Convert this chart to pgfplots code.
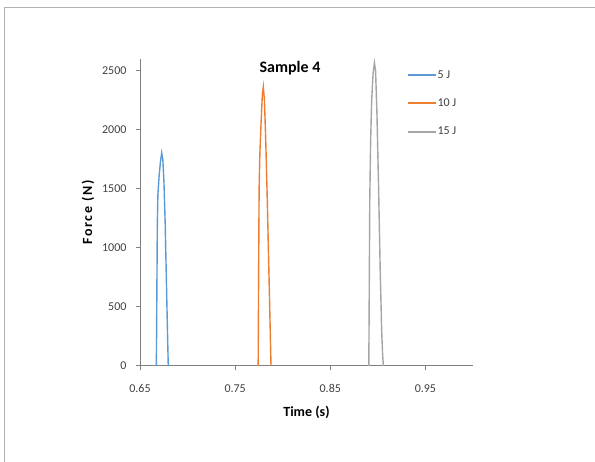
\documentclass[border=0pt]{standalone}
\usepackage{fontspec}
\setmainfont{Carlito}
\newfontfamily\spaced[LetterSpace=12]{Carlito}
\usepackage{pgfplots}
\pgfplotsset{compat=1.18}
\definecolor{cblue}{HTML}{5B9BD5}
\definecolor{corange}{HTML}{ED7D31}
\definecolor{cgray}{HTML}{A5A5A5}
\definecolor{axgray}{HTML}{7F7F7F}
\definecolor{txt}{HTML}{404040}
\begin{document}
\begin{tikzpicture}[x=1pt,y=1pt]
\path[use as bounding box] (0,0) rectangle (595,462);
\draw[color=black!30, line width=1pt] (4,0) -- (4,454) -- (595,454);
\begin{axis}[
  at={(140pt,96pt)}, anchor=south west,
  scale only axis, width=333pt, height=307pt,
  xmin=0.65, xmax=1.0, ymin=0, ymax=2600,
  xtick={0.65,0.75,0.85,0.95},
  ytick={0,500,1000,1500,2000,2500},
  xticklabel style={/pgf/number format/fixed,/pgf/number format/precision=2,/pgf/number format/fixed zerofill, yshift=-11pt},
  yticklabel style={/pgf/number format/fixed,/pgf/number format/1000 sep={}, xshift=-6pt},
  /pgf/number format/assume math mode=true,
  ticklabel style={font=\fontsize{12}{14}\selectfont, text=txt},
  axis x line*=bottom, axis y line*=left,
  axis line style={axgray, line width=1pt, -},
  tick style={axgray, line width=1pt},
  tick align=outside, major tick length=4pt,
  xlabel={\textbf{Time (s)}},
  ylabel={\spaced\bfseries Force (N)},
  label style={font=\fontsize{14}{16}\selectfont, text=black},
  xlabel style={yshift=-6pt},
  ylabel style={yshift=1pt},
  legend style={at={(0.80,0.97)}, anchor=north west, draw=none, fill=none,
    font=\fontsize{12}{14}\selectfont, text=txt, row sep=15pt, inner sep=0pt,
    nodes={inner xsep=1pt}},
  legend cell align=left,
  legend image code/.code={\draw[#1, line width=2pt] (0pt,0pt) -- (28pt,0pt);},
  clip=false,
]
\addplot[cblue, line width=1.4pt] coordinates {
(0.6672,0) (0.6677,600) (0.6682,1200) (0.6688,1450) (0.6700,1600) (0.6715,1730)
(0.6728,1805) (0.6740,1750) (0.6752,1550) (0.6765,1200) (0.6778,700) (0.6790,250) (0.6797,0)};
\addlegendentry{5 J}
\addplot[corange, line width=1.4pt] coordinates {
(0.7742,0) (0.7747,800) (0.7752,1500) (0.7760,1800) (0.7772,2050) (0.7786,2300)
(0.7796,2365) (0.7808,2250) (0.7822,1900) (0.7838,1400) (0.7852,900) (0.7866,400) (0.7877,0)};
\addlegendentry{10 J}
\addplot[cgray, line width=1.4pt] coordinates {
(0.8905,0) (0.8910,700) (0.8915,1400) (0.8924,1900) (0.8935,2250) (0.8950,2480)
(0.8964,2567) (0.8976,2500) (0.8990,2150) (0.9008,1500) (0.9025,800) (0.9040,300) (0.9050,100) (0.9058,0)};
\addlegendentry{15 J}
\node[font=\fontsize{16}{18}\selectfont\bfseries, anchor=center] at (axis cs:0.8077,2520) {Sample 4};
\end{axis}
\end{tikzpicture}
\end{document}
